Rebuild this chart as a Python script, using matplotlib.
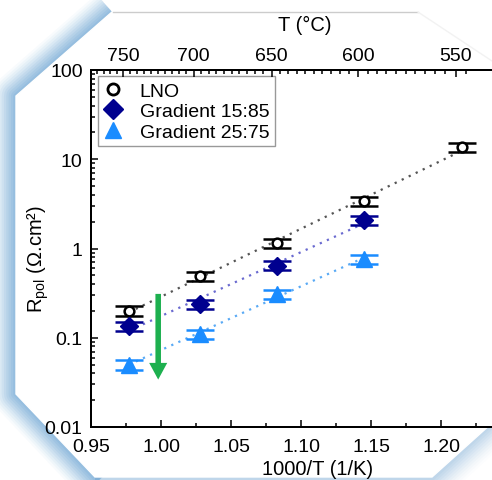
"""Rpol vs 1000/T with a T (°C) top axis."""

import matplotlib
matplotlib.use("Agg")
import matplotlib.pyplot as plt
import numpy as np
from matplotlib.lines import Line2D
from matplotlib.ticker import FixedLocator, LogLocator, NullFormatter

plt.rcParams["font.family"] = ["Liberation Sans", "DejaVu Sans"]
plt.rcParams["mathtext.default"] = "regular"

# valeurs
x_lno = [0.977, 1.028, 1.083, 1.145, 1.215]
r_lno = [0.20, 0.49, 1.14, 3.38, 13.6]
e_lno = [0.024, 0.058, 0.13, 0.40, 1.6]

x_g15 = [0.977, 1.028, 1.083, 1.145]
r_g15 = [0.136, 0.239, 0.643, 2.09]
e_g15 = [0.016, 0.028, 0.075, 0.24]

x_g25 = [0.977, 1.028, 1.083, 1.145]
r_g25 = [0.050, 0.110, 0.309, 0.762]
e_g25 = [0.006, 0.013, 0.036, 0.09]

labels = ["LNO", "Gradient 15:85", "Gradient 25:75"]
temps_major = [750, 700, 650, 600, 550]
top_offset = 0.0043  # l'axe du haut est légèrement décalé sur l'original

arrow_x = 0.998
arrow_top = 0.31
arrow_bottom = 0.034

C_LNO = "black"
C_G15 = "#00008f"
C_G25 = "#1a8cff"
C_ARROW = "#1db04f"

W, H = 492, 481
fig = plt.figure(figsize=(W / 100, H / 100), dpi=100)

# cadre décoratif (halo bleu autour du panneau blanc)
bg = fig.add_axes([0, 0, 1, 1], zorder=-5)
bg.set_xlim(0, W)
bg.set_ylim(H, 0)
bg.axis("off")
glow = [
    ([(112, 13), (16, 97), (16, 395), (100, 484)], 0.85),
    ([(95, 479), (432, 479), (492, 424)], 0.4),
]
for seg, k in glow:
    sx, sy = zip(*seg)
    for lw, a in zip(np.linspace(34, 4, 10), np.linspace(0.05, 0.22, 10)):
        bg.plot(sx, sy, color="#6fa6d6", lw=lw, alpha=a * k,
                solid_capstyle="butt", solid_joinstyle="round")
poly = [(112, 13), (16, 97), (16, 395), (95, 478), (432, 478), (492, 424),
        (492, 13)]
bg.fill(*zip(*poly), color="white", zorder=2)
bg.plot([113, 418], [13, 13], color="#cccccc", lw=1, zorder=3)
bg.plot([418, 492], [13, 62], color="#f2f2f2", lw=1, zorder=3)

ax = fig.add_axes([91 / W, 1 - 428 / H, 406 / W, 357 / H])
ax.set_yscale("log")
ax.set_xlim(0.95, 0.95 + 406 / 1400)
ax.set_ylim(0.01, 100)

series = [
    (x_lno, r_lno, e_lno, C_LNO, "#555555", dict(marker="o", ms=7, mfc="white", mec=C_LNO, mew=1.8)),
    (x_g15, r_g15, e_g15, C_G15, "#6a6ad0", dict(marker="D", ms=9, mfc=C_G15, mec=C_G15)),
    (x_g25, r_g25, e_g25, C_G25, "#5aaaf5", dict(marker="^", ms=12, mfc=C_G25, mec=C_G25)),
]
for xs, ys, es, col, lcol, mk in series:
    xs = np.array(xs)
    ys = np.array(ys)
    a, b = np.polyfit(xs, np.log10(ys), 1)
    xf = np.array([xs.min(), xs.max()])
    ax.plot(xf, 10 ** (a * xf + b), ls=(0, (1, 2.5)), color=lcol, lw=1.6, zorder=2)
    ax.errorbar(xs, ys, yerr=es, fmt="none", ecolor=col, elinewidth=1.5,
                capsize=10, capthick=1.8, zorder=3)
    ax.plot(xs, ys, ls="none", zorder=4, **mk)

ax.annotate("", xy=(arrow_x, arrow_bottom), xytext=(arrow_x, arrow_top),
            arrowprops=dict(arrowstyle="simple,head_length=0.6,head_width=0.65,tail_width=0.2",
                            mutation_scale=20, color=C_ARROW, lw=0, shrinkA=0, shrinkB=0),
            zorder=5)

ax.set_xticks(np.arange(0.95, 1.2301, 0.05))
ax.set_xticklabels([f"{v:.2f}" for v in np.arange(0.95, 1.2301, 0.05)])
ax.set_xticks(np.arange(0.975, 1.24, 0.05), minor=True)
ax.set_yticks([0.01, 0.1, 1, 10, 100])
ax.set_yticklabels(["0.01", "0.1", "1", "10", "100"])
ax.yaxis.set_minor_locator(LogLocator(base=10, subs=np.arange(2, 10)))
ax.yaxis.set_minor_formatter(NullFormatter())
ax.tick_params(which="both", direction="in", top=False, right=False,
               labelsize=14, width=1.1)
ax.tick_params(axis="x", which="major", length=5, pad=8)
ax.tick_params(axis="y", which="major", length=5, pad=6)
ax.tick_params(which="minor", length=3)
for s in ax.spines.values():
    s.set_linewidth(1.4)
ax.spines["right"].set_visible(False)

ax.set_xlabel("1000/T (1/K)", fontsize=14.5)
ax.xaxis.set_label_coords(0.557, -0.09)
ax.set_ylabel("R$_{pol}$ (Ω.cm²)", fontsize=14.5)
ax.yaxis.set_label_coords(-0.098, 0.473)

# axe du haut en °C
top = ax.twiny()
top.set_xlim(ax.get_xlim())
top_pos = [1000 / (t + 273.15) - top_offset for t in temps_major]
top.xaxis.set_major_locator(FixedLocator(top_pos))
top.set_xticklabels([str(t) for t in temps_major])
minor_t = [t for t in range(545, 780, 5) if t % 50]
top.xaxis.set_minor_locator(FixedLocator([1000 / (t + 273.15) - top_offset for t in minor_t]))
top.tick_params(which="both", direction="in", labelsize=14, width=1.1)
top.tick_params(which="major", length=5, pad=4)
top.tick_params(which="minor", length=3)
for s in top.spines.values():
    s.set_linewidth(1.4)
top.spines["right"].set_visible(False)
top.set_xlabel("T (°C)", fontsize=14.5)
top.xaxis.set_label_coords(0.527, 1.112)

handles = [
    Line2D([], [], ls="none", marker="o", ms=8, mfc="white", mec=C_LNO, mew=2),
    Line2D([], [], ls="none", marker="D", ms=10, mfc=C_G15, mec=C_G15),
    Line2D([], [], ls="none", marker="^", ms=11, mfc=C_G25, mec=C_G25),
]
leg = ax.legend(handles, labels, loc="upper left", bbox_to_anchor=(0.0165, 0.983),
                borderaxespad=0, fontsize=14, frameon=True, fancybox=False,
                edgecolor="#999999", framealpha=1, handlelength=1.0,
                handletextpad=0.85, labelspacing=0.15, borderpad=0.3)
leg.get_frame().set_linewidth(1.0)

fig.savefig("out.png", dpi=100)
